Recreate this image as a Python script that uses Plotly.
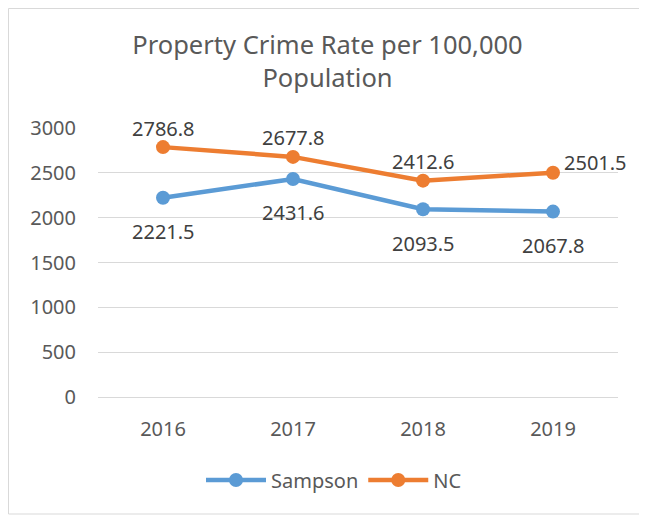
import plotly.graph_objects as go

years = ["2016", "2017", "2018", "2019"]
sampson = [2221.5, 2431.6, 2093.5, 2067.8]
nc = [2786.8, 2677.8, 2412.6, 2501.5]
y_ticks = [0, 500, 1000, 1500, 2000, 2500, 3000]

blue = "#5B9BD5"
orange = "#ED7D31"
txt = "#595959"
font_family = "Noto Sans"

W, H = 639, 507
L, T, PW, PH = 90, 120, 520, 269

fig = go.Figure()
fig.add_trace(go.Scatter(x=years, y=sampson, name="Sampson", mode="lines+markers",
                         line=dict(color=blue, width=4.5), marker=dict(size=14, color=blue)))
fig.add_trace(go.Scatter(x=years, y=nc, name="NC", mode="lines+markers",
                         line=dict(color=orange, width=4.5), marker=dict(size=14, color=orange)))

lab_font = dict(size=20, color="#404040", family=font_family)
annotations = []
for i, v in enumerate(sampson):
    annotations.append(dict(x=i, y=v, xref="x", yref="y", text=f"{v:.1f}", showarrow=False,
                            yshift=-34, font=lab_font))
for i, v in enumerate(nc):
    if i == len(years) - 1:
        annotations.append(dict(x=i, y=v, xref="x", yref="y", text=f"{v:.1f}", showarrow=False,
                                xshift=42, yshift=10, font=lab_font))
    else:
        annotations.append(dict(x=i, y=v, xref="x", yref="y", text=f"{v:.1f}", showarrow=False,
                                yshift=19, font=lab_font))

fig.update_layout(
    width=W, height=H,
    margin=dict(l=L, r=W - L - PW, t=T, b=H - T - PH),
    paper_bgcolor="white", plot_bgcolor="white",
    font=dict(family=font_family, color=txt, size=20),
    title=dict(text="Property Crime Rate per 100,000<br>Population", x=0.5, xanchor="center",
               y=1 - 46 / H, yanchor="middle", font=dict(size=25.5, color=txt, family=font_family)),
    xaxis=dict(type="category", range=[-0.5, 3.5], showgrid=False, showline=True,
               linecolor="#D9D9D9", linewidth=1, ticks="", tickfont=dict(size=20, color=txt),
               ticklabelstandoff=14),
    yaxis=dict(range=[0, 3000], tickvals=y_ticks, showgrid=True, gridcolor="#D9D9D9",
               gridwidth=1, zeroline=False, showline=False, ticks="", ticklen=0,
               tickfont=dict(size=20, color=txt), ticklabelstandoff=21),
    legend=dict(orientation="h", x=0.5 - 24 / PW, xanchor="center", y=-(472 - 389) / PH,
                yanchor="middle", font=dict(size=20, color=txt), itemwidth=60, tracegroupgap=0),
    annotations=annotations,
    shapes=[dict(type="rect", xref="paper", yref="paper",
                 x0=(0.5 - L) / PW, x1=(W - 1 - L) / PW,
                 y0=-(H - 1 - T - PH) / PH, y1=1 + (T - 0.5) / PH,
                 line=dict(color="#D9D9D9", width=1), fillcolor="rgba(0,0,0,0)", layer="below")],
)

fig.write_html("out.html")
